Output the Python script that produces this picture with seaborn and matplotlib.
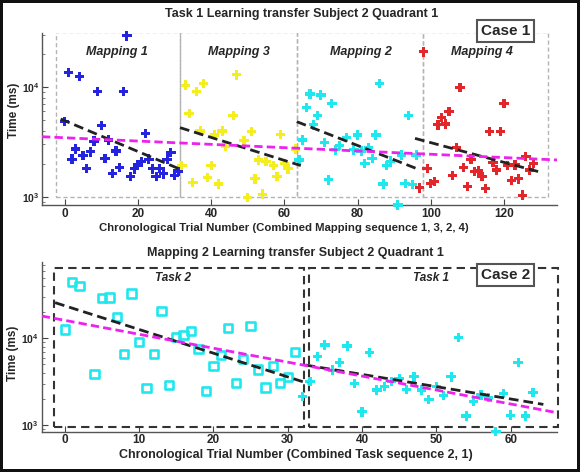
import matplotlib
matplotlib.use('Agg')
import matplotlib.pyplot as plt
import numpy as np
import pandas as pd
import seaborn as sns
from matplotlib.patches import Rectangle
from matplotlib.ticker import FixedLocator, FuncFormatter, LogLocator, NullFormatter

# ---- Case 1 : Task 1, mappings in the order 1, 3, 2, 4 ----
map1_trial = list(range(0, 32))
map1_time = [4840, 13600, 2210, 2730, 12500, 2370, 1820, 2570, 3220, 9100, 4450, 2250, 3300, 1640, 2620, 1850,
             9100, 29200, 1530, 1800, 1950, 2090, 3790, 2210, 1800, 1530, 1820, 1620, 2210, 2550, 1560, 1720]
map3_trial = [32, 33, 34, 35, 36, 37, 38, 39, 40, 41, 42, 43, 44, 46, 47, 49, 50, 51, 52, 53, 54, 55, 57, 58,
              59, 60, 61, 63]
map3_time = [1930, 10400, 5770, 1360, 9100, 3980, 10800, 1500, 1930, 3660, 1310, 3980, 2860, 5480, 12900, 3240,
             985, 3930, 1460, 2170, 1060, 2090, 1930, 1530, 3710, 2020, 1800, 2730]
map2_trial = [64, 65, 66, 67, 68, 69, 70, 71, 72, 73, 74, 75, 77, 79, 80, 81, 82, 83, 84, 85, 86, 87, 88, 89,
              91, 92, 93, 94, 95, 96]
map2_time = [2170, 3300, 6480, 8630, 4520, 5480, 8450, 3140, 1430, 7110, 2680, 2920, 3460, 2680, 3660, 2620,
             2020, 2800, 2250, 3660, 10800, 1310, 1930, 2120, 846, 2410, 1330, 5480, 1300, 2410]
map4_trial = list(range(97, 129))
map4_time = [1210, 20900, 1820, 1330, 1380, 4520, 5310, 4610, 5970, 1560, 2800, 9930, 1850, 1240, 2210, 1700,
             1720, 1530, 1200, 3930, 2070, 1760, 3930, 7110, 1930, 1410, 1950, 1460, 1040, 2330, 1760, 2020]

mapping_names = ['Mapping 1', 'Mapping 3', 'Mapping 2', 'Mapping 4']
mapping_colors = ['#2424e0', '#f4ee1c', '#1ee8ee', '#e2262a']
mapping_edges = [-2.4, 31.5, 63.5, 97.9, 132.1]

# per-mapping fitted trend (start trial, end trial, start time, end time)
case1_fit_x0 = [-1.1, 31.5, 63.4, 95.7]
case1_fit_x1 = [31.3, 64.5, 97.1, 129.4]
case1_fit_y0 = [5120, 4270, 4840, 3410]
case1_fit_y1 = [1800, 1930, 1760, 1700]
case1_all_x = [-6.2, 134.5]
case1_all_y = [3530, 2170]

# ---- Case 2 : Mapping 2, tasks in the order 2, 1 ----
task2_trial = [0, 1, 2, 4, 5, 6, 7, 8, 9, 10, 11, 12, 13, 14, 15, 16, 17, 18, 19, 20, 21, 22, 23, 24, 25, 26,
               27, 28, 29, 30, 31]
task2_time = [12700, 45000, 40100, 3850, 29400, 29700, 17500, 6590, 33000, 9140, 2690, 6590, 20700, 2890, 10400,
              10900, 12100, 7470, 2490, 4790, 6410, 13200, 3030, 5730, 13900, 4390, 2720, 4790, 3080, 3550, 7000]
task1_trial = list(range(32, 64))
task1_time = [2120, 3160, 6140, 8380, 4300, 5280, 8150, 3030, 1420, 6890, 2540, 2770, 3160, 3460, 2580, 3600,
              2540, 1980, 2770, 2180, 3600, 10300, 1270, 1860, 2220, 2070, 838, 2320, 1300, 5230, 1270, 2360]

case2_fit_x0 = [-1.3, 32.4]
case2_fit_x1 = [32.7, 64.4]
case2_fit_y0 = [25800, 4920]
case2_fit_y1 = [3030, 1730]
case2_all_x = [-3.1, 66.2]
case2_all_y = [18100, 1390]

sns.set_theme(style='ticks')
plt.rcParams['font.family'] = ['Liberation Sans', 'DejaVu Sans']
plt.rcParams['font.weight'] = 'bold'
plt.rcParams['mathtext.fontset'] = 'custom'
plt.rcParams['mathtext.rm'] = 'Liberation Sans'
plt.rcParams['mathtext.bf'] = 'Liberation Sans:bold'

fig = plt.figure(figsize=(5.8, 4.72), dpi=100)
fig.patch.set_facecolor('white')
fig.patch.set_edgecolor('#111111')
fig.patch.set_linewidth(4)

ax1 = fig.add_axes([0.0724, 0.5657, 0.888, 0.3644])
ax2 = fig.add_axes([0.0719, 0.0854, 0.888, 0.3602])

log_fmt = FuncFormatter(lambda v, p: r'$\mathbf{10^{%d}}$' % round(np.log10(v)))


def style_axis(ax):
    ax.set_yscale('log')
    ax.yaxis.set_major_locator(FixedLocator([1e3, 1e4]))
    ax.yaxis.set_major_formatter(log_fmt)
    ax.yaxis.set_minor_locator(LogLocator(base=10, subs=np.arange(2, 10)))
    ax.yaxis.set_minor_formatter(NullFormatter())
    ax.tick_params(which='major', direction='in', length=4, width=0.8, color='#444444', labelsize=8.5, pad=2)
    ax.tick_params(which='minor', direction='in', length=2, width=0.6, color='#666666')
    ax.tick_params(axis='y', labelsize=7.5)
    sns.despine(ax=ax)
    for s in ['left', 'bottom']:
        ax.spines[s].set_color('#555555')
        ax.spines[s].set_linewidth(1.0)
    ax.set_xlabel('')
    ax.set_ylabel('')
    ax.set_facecolor('white')


# ---------------- top panel ----------------
case1 = pd.concat([
    pd.DataFrame({'trial': map1_trial, 'time': map1_time, 'mapping': 'Mapping 1'}),
    pd.DataFrame({'trial': map3_trial, 'time': map3_time, 'mapping': 'Mapping 3'}),
    pd.DataFrame({'trial': map2_trial, 'time': map2_time, 'mapping': 'Mapping 2'}),
    pd.DataFrame({'trial': map4_trial, 'time': map4_time, 'mapping': 'Mapping 4'}),
])

for i in range(4):
    ax1.add_patch(Rectangle((mapping_edges[i], 1000), mapping_edges[i + 1] - mapping_edges[i], 10 ** 4.5 - 1000,
                            fill=False, edgecolor='#b4b4b4', linewidth=1.0, linestyle=(0, (3, 2)), zorder=1))

sns.scatterplot(data=case1, x='trial', y='time', hue='mapping', hue_order=mapping_names,
                palette=dict(zip(mapping_names, mapping_colors)), marker='P', s=46, linewidth=0,
                edgecolor='none', legend=False, ax=ax1, zorder=3, clip_on=False)

for i in range(4):
    ax1.plot([case1_fit_x0[i], case1_fit_x1[i]], [case1_fit_y0[i], case1_fit_y1[i]], color='#222222',
             linewidth=2, linestyle=(0, (3.5, 1.8)), zorder=4)
ax1.plot(case1_all_x, case1_all_y, color='#ee22ee', linewidth=2, linestyle=(0, (3, 1.5)), zorder=4)

for name, xc in zip(mapping_names, [14.3, 47.6, 81, 114]):
    ax1.text(xc, 20800, name, ha='center', va='center', fontsize=9, fontstyle='italic', fontweight='bold')

ax1.set_xlim(-6.2, 134.5)
ax1.set_ylim(845, 31000)
ax1.set_xticks(range(0, 121, 20))
style_axis(ax1)

# ---------------- bottom panel ----------------
ax2.add_patch(Rectangle((-1.5, 955), 33.7, 64000 - 955, fill=False, edgecolor='#333333', linewidth=1.5,
                        linestyle=(0, (4, 2.5)), zorder=1, clip_on=False))
ax2.add_patch(Rectangle((32.8, 955), 33.6, 64000 - 955, fill=False, edgecolor='#333333', linewidth=1.5,
                        linestyle=(0, (4, 2.5)), zorder=1, clip_on=False))

sns.scatterplot(x=task2_trial, y=task2_time, marker='s', s=36, facecolor='none', edgecolor='#1ee8ee',
                linewidth=1.9, ax=ax2, zorder=3)
sns.scatterplot(x=task1_trial, y=task1_time, marker='P', s=46, color='#1ee8ee', edgecolor='none',
                linewidth=0, ax=ax2, zorder=3, clip_on=False)

for i in range(2):
    ax2.plot([case2_fit_x0[i], case2_fit_x1[i]], [case2_fit_y0[i], case2_fit_y1[i]], color='#222222',
             linewidth=2, linestyle=(0, (3.5, 1.8)), zorder=4)
ax2.plot(case2_all_x, case2_all_y, color='#ee22ee', linewidth=2, linestyle=(0, (3, 1.5)), zorder=4)

ax2.text(14.6, 49000, 'Task 2', ha='center', va='center', fontsize=8.5, fontstyle='italic', fontweight='bold')
ax2.text(49.3, 49000, 'Task 1', ha='center', va='center', fontsize=8.5, fontstyle='italic', fontweight='bold')

ax2.set_xlim(-3.1, 66.2)
ax2.set_ylim(838, 76600)
ax2.set_xticks(range(0, 61, 10))
style_axis(ax2)

# ---------------- titles, labels, case boxes ----------------
fig.text(0.52, 0.970, 'Task 1 Learning transfer Subject 2 Quadrant 1', ha='center', va='center', fontsize=9)
fig.text(0.49, 0.517, 'Chronological Trial Number (Combined Mapping sequence 1, 3, 2, 4)', ha='center',
         va='center', fontsize=8.2)
fig.text(0.024, 0.767, 'Time (ms)', ha='center', va='center', rotation=90, fontsize=8.5)

fig.text(0.51, 0.464, 'Mapping 2 Learning transfer Subject 2 Quadrant 1', ha='center', va='center', fontsize=9)
fig.text(0.51, 0.036, 'Chronological Trial Number (Combined Task sequence 2, 1)', ha='center', va='center',
         fontsize=9)
fig.text(0.022, 0.252, 'Time (ms)', ha='center', va='center', rotation=90, fontsize=8.5)

case_box = dict(boxstyle='square,pad=0.25', facecolor='white', edgecolor='#555555', linewidth=1.5)
fig.text(0.871, 0.934, 'Case 1', ha='center', va='center', fontsize=11, bbox=case_box)
fig.text(0.871, 0.417, 'Case 2', ha='center', va='center', fontsize=11, bbox=case_box)

fig.savefig('out.png', dpi=100)
